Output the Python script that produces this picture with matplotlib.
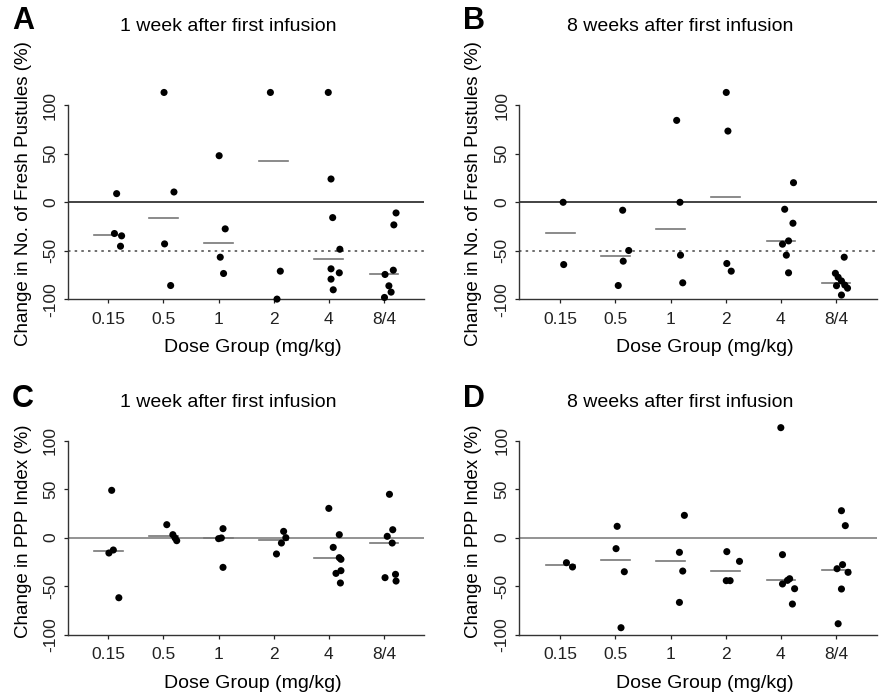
import numpy as np
import matplotlib
matplotlib.use("Agg")
import matplotlib.pyplot as plt

plt.rcParams['font.family'] = ['Liberation Sans', 'DejaVu Sans']
plt.rcParams['axes.unicode_minus'] = False

# dose groups
groups = ['0.15', '0.5', '1', '2', '4', '8/4']

# Panel A: fresh pustules, 1 week
a_vals = [[8.9, -32.2, -34.6, -45.3],
          [113.2, 10.6, -42.9, -85.8],
          [48.0, -27.4, -56.6, -73.4],
          [113.2, -71.0, -99.8],
          [113.2, 24.0, -15.8, -48.4, -68.6, -72.7, -79.2, -90.2],
          [-11.0, -23.3, -70.0, -74.4, -86.1, -92.6, -98.1]]
a_jit = [[0.15, 0.11, 0.24, 0.22],
         [0.01, 0.19, 0.02, 0.13],
         [0.01, 0.12, 0.03, 0.09],
         [-0.06, 0.12, 0.06],
         [-0.01, 0.04, 0.07, 0.20, 0.04, 0.19, 0.04, 0.08],
         [0.22, 0.18, 0.17, 0.02, 0.09, 0.13, 0.01]]
a_med = [-34, -16, -42, 42.5, -58, -74.4]

# Panel B: fresh pustules, 8 weeks
b_vals = [[0, -64.2],
          [-8.2, -49.7, -60.7, -85.8],
          [84.4, 0, -54.5, -83.0],
          [113.2, 73.4, -63.1, -71.0],
          [20.2, -7.2, -21.6, -39.8, -43.2, -54.5, -72.7],
          [-56.6, -73.2, -77.3, -81.1, -85.3, -86.0, -88.5, -95.6]]
b_jit = [[0.05, 0.06],
         [0.13, 0.24, 0.14, 0.05],
         [0.11, 0.17, 0.18, 0.22],
         [0.01, 0.04, 0.02, 0.10],
         [0.23, 0.07, 0.22, 0.14, 0.03, 0.10, 0.14],
         [0.15, -0.01, 0.04, 0.10, 0.16, 0.01, 0.21, 0.10]]
b_med = [-32, -55.2, -27.2, 5.5, -39.8, -83]

# Panel C: PPP index, 1 week
c_vals = [[48.8, -12.7, -15.8, -61.9],
          [13.4, 3.1, -0.3, -3.1],
          [9.3, -0.3, -1.0, -30.6],
          [6.5, 0, -5.5, -16.8],
          [30.2, 3.1, -10.0, -20.6, -22.3, -34.0, -36.8, -46.7],
          [44.7, 8.2, 1.4, -5.5, -37.8, -41.2, -44.7]]
c_jit = [[0.06, 0.09, 0.01, 0.19],
         [0.06, 0.17, 0.21, 0.24],
         [0.08, 0.05, 0.0, 0.08],
         [0.18, 0.22, 0.14, 0.05],
         [0.0, 0.19, 0.08, 0.19, 0.22, 0.22, 0.13, 0.21],
         [0.10, 0.16, 0.06, 0.15, 0.21, 0.02, 0.22]]
c_med = [-14.1, 1.5, -0.7, -2.7, -21.3, -5.2]

# Panel D: PPP index, 8 weeks
d_vals = [[-25.8, -30.2],
          [11.7, -11.3, -35.1, -92.8],
          [23.0, -15.1, -34.4, -66.7],
          [-14.4, -24.4, -44.3, -44.3],
          [113.4, -17.5, -42.3, -44.0, -47.7, -52.6, -68.4],
          [27.8, 12.4, -27.8, -32.0, -35.7, -52.9, -88.7]]
d_jit = [[0.11, 0.22],
         [0.03, 0.01, 0.16, 0.10],
         [0.25, 0.16, 0.22, 0.16],
         [0.02, 0.25, 0.01, 0.08],
         [0.0, 0.03, 0.16, 0.12, 0.03, 0.25, 0.21],
         [0.10, 0.17, 0.12, 0.02, 0.22, 0.10, 0.04]]
d_med = [-28.2, -22.7, -24.4, -34.4, -44, -33.3]

W, H = 884, 698
fig = plt.figure(figsize=(W / 100, H / 100), dpi=100)


def fx(x):
    return x / W


def fy(y):
    return 1 - y / H


def panel(rect, xlim, vals, jit, med, dotted, zcol, letter, title, ylabel, txt):
    ax = fig.add_axes(rect)
    x = np.arange(1, len(groups) + 1)
    ax.axhline(0, color=zcol, lw=1.2, zorder=1)
    if dotted:
        ax.axhline(-50, color='#555555', lw=1.2, ls=(0, (1.5, 2.5)), zorder=1)
    for i in range(len(groups)):
        ax.plot([x[i] - 0.26, x[i] + 0.26], [med[i], med[i]], color='#777777', lw=1.2, zorder=2)
        ax.scatter(x[i] + np.array(jit[i]), vals[i], s=26, color='black',
                   edgecolor='none', zorder=3, clip_on=False)
    ax.set_xlim(*xlim)
    ax.set_ylim(-100, 125)
    ax.set_xticks(x)
    ax.set_xticklabels(groups, fontsize=12.5)
    ax.set_yticks([-100, -50, 0, 50, 100])
    ax.set_yticklabels(['-100', '-50', '0', '50', '100'], fontsize=12.5,
                       rotation=90, va='center')
    ax.tick_params(axis='x', length=3, width=0.9, pad=6, colors='#222222')
    ax.tick_params(axis='y', length=3, width=0.9, pad=4, colors='#222222')
    for s in ['top', 'right']:
        ax.spines[s].set_visible(False)
    ax.spines['left'].set_bounds(-100, 100)
    for s in ['left', 'bottom']:
        ax.spines[s].set_color('#333333')
        ax.spines[s].set_linewidth(1.0)
    lx, ly, tx, ty, ylx, yly, xlx, xly = txt
    fig.text(fx(lx), fy(ly), letter, fontsize=22, fontweight='bold', ha='center', va='center')
    fig.text(fx(tx), fy(ty), title, fontsize=14, ha='center', va='center')
    fig.text(fx(ylx), fy(yly), ylabel, fontsize=13.5, rotation=90, ha='center', va='center')
    fig.text(fx(xlx), fy(xly), 'Dose Group (mg/kg)', fontsize=14, ha='center', va='center')
    return ax


lab_top = 'Change in No. of Fresh Pustules (%)'
lab_bot = 'Change in PPP Index (%)'

# axes rectangles from pixel geometry
top_rect_y = fy(299.3)
bot_rect_y = fy(634.7)
hgt = 218.3 / H

panel([fx(67.7), top_rect_y, 356.3 / W, hgt], (0.262, 6.727), a_vals, a_jit, a_med,
      True, '#222222', 'A', '1 week after first infusion', lab_top,
      (23.5, 21, 228, 26.7, 24, 194, 253, 348))
panel([fx(519.3), top_rect_y, 357.7 / W, hgt], (0.2545, 6.745), b_vals, b_jit, b_med,
      True, '#222222', 'B', '8 weeks after first infusion', lab_top,
      (474.3, 21, 680, 26.7, 474, 194, 705, 348))
panel([fx(67.7), bot_rect_y, 356.3 / W, hgt], (0.262, 6.727), c_vals, c_jit, c_med,
      False, '#808080', 'C', '1 week after first infusion', lab_bot,
      (22.3, 399, 228, 402.3, 24, 531.5, 253, 684))
panel([fx(519.3), bot_rect_y, 357.7 / W, hgt], (0.2545, 6.745), d_vals, d_jit, d_med,
      False, '#808080', 'D', '8 weeks after first infusion', lab_bot,
      (474.3, 399, 680, 402.3, 474, 531.5, 705, 684))

fig.savefig('out.png', dpi=100)
